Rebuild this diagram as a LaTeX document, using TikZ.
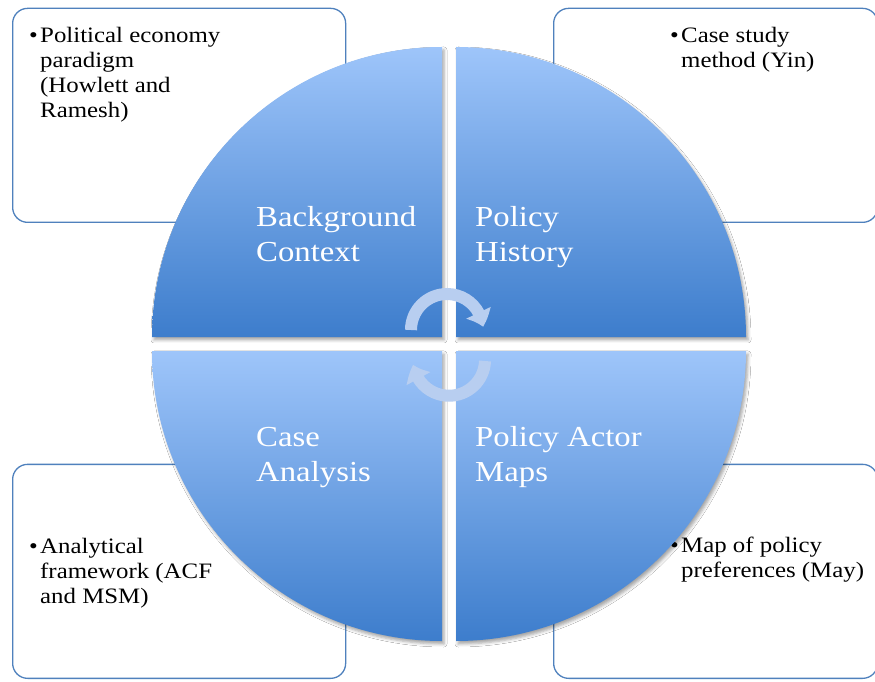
\documentclass[tikz,border=0pt]{standalone}
\usepackage{fontspec}
\setmainfont{Liberation Serif}[FakeStretch=1.13]
\usetikzlibrary{shadows.blur,arrows.meta,bending}
\definecolor{boxblue}{HTML}{4F81BD}
\definecolor{qlight}{HTML}{9EC5FA}
\definecolor{qdark}{HTML}{3D7DCC}
\definecolor{arrowblue}{HTML}{B8CEF0}
\begin{document}
\begin{tikzpicture}[x=1pt,y=1pt,
  infobox/.style={draw=boxblue,line width=1.3pt,rounded corners=15pt,fill=white,inner sep=0pt,anchor=south west},
  quad/.style={top color=qlight,bottom color=qdark,draw=none,
    blur shadow={shadow xshift=2pt,shadow yshift=-3pt,shadow opacity=35,shadow blur radius=3pt}},
  bullettext/.style={anchor=base west,inner sep=0pt,font=\fontsize{22}{25}\selectfont,text=black},
  qlabel/.style={anchor=base west,inner sep=0pt,text=white,font=\fontsize{29}{35}\selectfont},
  cyc/.style={line width=12pt,draw=arrowblue,-{Triangle[width=26pt,length=15pt,bend]}}]
\useasboundingbox (0,0) rectangle (875,681);
\fill[white] (0,0) rectangle (875,681);
% side boxes
\node[infobox,minimum width=333pt,minimum height=214pt] (bTL) at (12,458) {};
\node[infobox,minimum width=324pt,minimum height=214pt] (bTR) at (553,458) {};
\node[infobox,minimum width=333pt,minimum height=214pt] (bBL) at (12,2) {};
\node[infobox,minimum width=324pt,minimum height=214pt] (bBR) at (553,2) {};
% box texts
\node[bullettext] (tTL) at (29,638) {\begin{tabular}[t]{@{}l@{}l@{}}\makebox[11pt][l]{\textbullet}&Political economy\\&paradigm\\&(Howlett and\\&Ramesh)\end{tabular}};
\node[bullettext] (tTR) at (670,638) {\begin{tabular}[t]{@{}l@{}l@{}}\makebox[11pt][l]{\textbullet}&Case study\\&method (Yin)\end{tabular}};
\node[bullettext] (tBL) at (29,128) {\begin{tabular}[t]{@{}l@{}l@{}}\makebox[11pt][l]{\textbullet}&Analytical\\&framework (ACF\\&and MSM)\end{tabular}};
\node[bullettext] (tBR) at (670,129) {\begin{tabular}[t]{@{}l@{}l@{}}\makebox[11pt][l]{\textbullet}&Map of policy\\&preferences (May)\end{tabular}};
% quadrants
\path[quad] (442,344) -- (152,344) arc[start angle=180,end angle=90,radius=290] -- cycle;
\path[quad] (456,344) -- (456,634) arc[start angle=90,end angle=0,radius=290] -- cycle;
\path[quad] (442,330) -- (152,330) arc[start angle=180,end angle=270,radius=290] -- cycle;
\path[quad] (456,330) -- (746,330) arc[start angle=0,end angle=-90,radius=290] -- cycle;
% quadrant labels
\node[qlabel] (lBG) at (256,454) {\begin{tabular}[t]{@{}l@{}}Background\\Context\end{tabular}};
\node[qlabel] (lPH) at (475,454) {\begin{tabular}[t]{@{}l@{}}Policy\\History\end{tabular}};
\node[qlabel] (lCA) at (256,235) {\begin{tabular}[t]{@{}l@{}}Case\\Analysis\end{tabular}};
\node[qlabel] (lPA) at (475,235) {\begin{tabular}[t]{@{}l@{}}Policy Actor\\Maps\end{tabular}};
% cycle arrows
\draw[cyc] (411,351) arc[start angle=180,end angle=5,radius=36];
\draw[cyc] (485,320) arc[start angle=-2,end angle=-172,radius=36];
\end{tikzpicture}
\end{document}
